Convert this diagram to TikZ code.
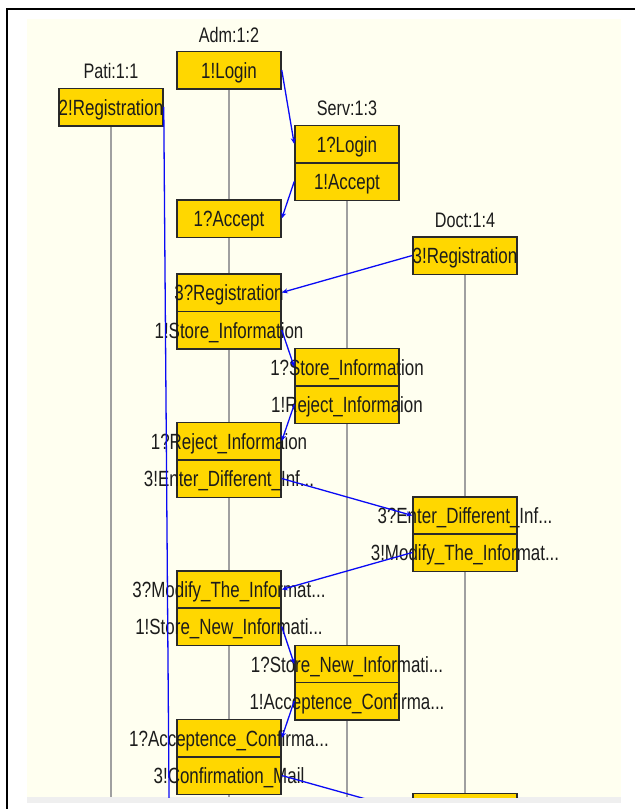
\documentclass[tikz,border=0pt]{standalone}
\usepackage{fontspec}
\usetikzlibrary{arrows.meta}
\newfontfamily\boxfont[FakeStretch=0.77]{Liberation Sans}
\definecolor{bgcream}{HTML}{FFFFF0}
\definecolor{stripgray}{HTML}{EFEFEF}
\definecolor{gold}{HTML}{FFD700}
\definecolor{boxline}{HTML}{2A2A2A}
\definecolor{lifegray}{HTML}{A0A0A0}
\definecolor{msgblue}{HTML}{0A0AF5}
\definecolor{txt}{HTML}{1C1C1C}
\newcommand\ctr[1]{\makebox[0pt][c]{#1}}
\begin{document}
\begin{tikzpicture}[x=1pt,y=-1pt,
  comp/.style={draw=boxline, line width=1.5pt, fill=gold, minimum width=104pt,
    minimum height=37.5pt, inner sep=0pt, text height=16pt, text depth=0pt,
    text=txt, font=\boxfont\fontsize{22}{24}\selectfont},
  title/.style={anchor=base, inner sep=0pt, text=txt,
    font=\boxfont\fontsize{21}{23}\selectfont},
  life/.style={draw=lifegray, line width=1.6pt},
  msg/.style={draw=msgblue, line width=1.3pt, -{Stealth[length=6pt,width=5pt]}}]
\useasboundingbox (0,0) rectangle (635,809);
\fill[white] (0,0) rectangle (635,809);
\fill[bgcream] (27,19) rectangle (621,797);
\fill[stripgray] (27,797) rectangle (621,803);
\draw[black, line width=2pt] (7,809) -- (7,8.5) -- (635,8.5);
% lifelines
\coordinate (pt) at (111,126); \coordinate (pb) at (111,797);
\coordinate (at) at (229,89);  \coordinate (ab) at (229,797);
\coordinate (st) at (347,200); \coordinate (sb) at (347,797);
\coordinate (dt) at (465,274); \coordinate (db) at (465,797);
\draw[life] (pt) -- (pb);
\draw[life] (at) -- (ab);
\draw[life] (st) -- (sb);
\draw[life] (dt) -- (db);
\begin{scope}
\clip (27,19) rectangle (621,797);
% titles
\node[title] (tp) at (111,78) {Pati:1:1};
\node[title] (ta) at (229,42) {Adm:1:2};
\node[title] (ts) at (347,115) {Serv:1:3};
\node[title] (td) at (465,227) {Doct:1:4};
% Pati
\node[comp] (p1) at (111,107) {\ctr{2!Registration}};
% Adm
\node[comp] (a1) at (229,70) {\ctr{1!Login}};
\node[comp] (a2) at (229,218.5) {\ctr{1?Accept}};
\node[comp] (a3) at (229,292.5) {\ctr{3?Registration}};
\node[comp] (a4) at (229,330) {\ctr{1!Store\_Information}};
\node[comp] (a5) at (229,441) {\ctr{1?Reject\_Informaion}};
\node[comp] (a6) at (229,478.5) {\ctr{3!Enter\_Different\_Inf...}};
\node[comp] (a7) at (229,589.5) {\ctr{3?Modify\_The\_Informat...}};
\node[comp] (a8) at (229,626.5) {\ctr{1!Store\_New\_Informati...}};
\node[comp] (a9) at (229,738) {\ctr{1?Acceptence\_Confirma...}};
\node[comp] (a10) at (229,775.5) {\ctr{3!Confirmation\_Mail}};
% Serv
\node[comp] (s1) at (347,144) {\ctr{1?Login}};
\node[comp] (s2) at (347,181.5) {\ctr{1!Accept}};
\node[comp] (s3) at (347,367) {\ctr{1?Store\_Information}};
\node[comp] (s4) at (347,404.5) {\ctr{1!Reject\_Informaion}};
\node[comp] (s5) at (347,664) {\ctr{1?Store\_New\_Informati...}};
\node[comp] (s6) at (347,701) {\ctr{1!Acceptence\_Confirma...}};
% Doct
\node[comp] (d1) at (465,255.5) {\ctr{3!Registration}};
\node[comp] (d2) at (465,515.5) {\ctr{3?Enter\_Different\_Inf...}};
\node[comp] (d3) at (465,552.5) {\ctr{3!Modify\_The\_Informat...}};
\node[comp] (d4) at (465,812) {};
% messages
\coordinate (pend) at (169.3,830);
\draw[msg] (p1.east) -- (pend);
\draw[msg] (a1.east) -- (s1.west);
\draw[msg] (s2.west) -- (a2.east);
\draw[msg] (d1.west) -- (a3.east);
\draw[msg] (a4.east) -- (s3.west);
\draw[msg] (s4.west) -- (a5.east);
\draw[msg] (a6.east) -- (d2.west);
\draw[msg] (d3.west) -- (a7.east);
\draw[msg] (a8.east) -- (s5.west);
\draw[msg] (s6.west) -- (a9.east);
\draw[msg] (a10.east) -- (d4.west);
\end{scope}
\end{tikzpicture}
\end{document}
